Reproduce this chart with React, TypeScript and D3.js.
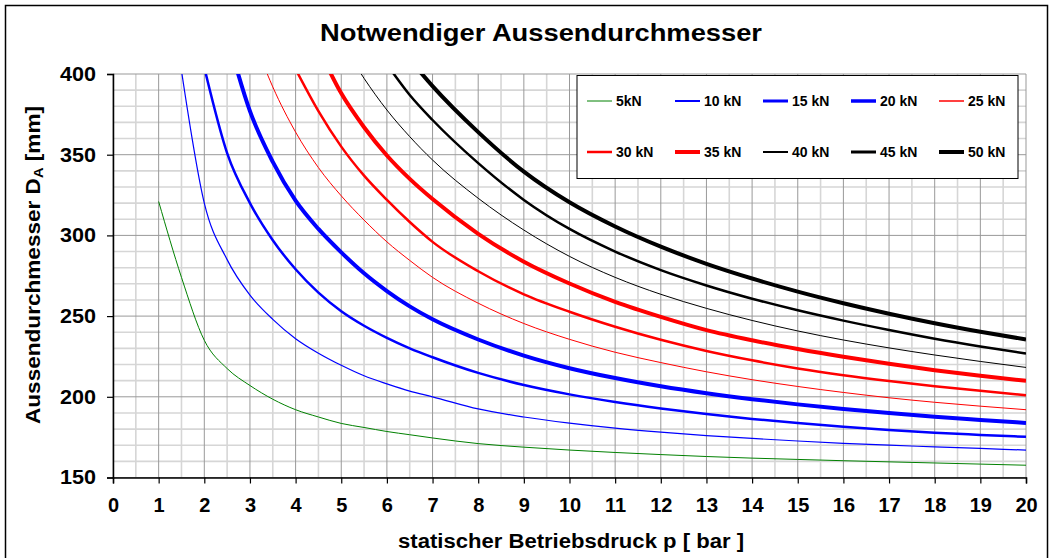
import React, { useEffect, useRef } from 'react';
import * as d3 from 'd3';

// static pressure p [bar] at which the curves were sampled
const PRESSURE = [1, 1.5, 2, 2.5, 3, 3.5, 4, 4.5, 5, 5.5, 6, 6.5, 7, 8, 9, 10, 11, 12, 13, 14, 15, 16, 17, 18, 19, 20];

// required outer diameter D_A [mm] per load, null = not plotted
const N = null;
const D_5 = [321, 274, 235, 217.5, 207, 198.5, 192, 187.5, 183.5, 181, 178.5, 176.5, 174.5, 171, 168.8, 167, 165.5, 164.2, 163, 162, 161.2, 160.4, 159.7, 159, 158.3, 157.6];
const D_10 = [N, 402, 320, 285, 263, 248, 236, 227, 219.5, 213, 208, 203.5, 200, 192.5, 187.5, 183.7, 180.6, 178.1, 176, 174.2, 172.6, 171.2, 170, 169, 168, 167];
const D_15 = [N, N, 404, 351, 320, 297, 279, 264.5, 253, 244, 236.5, 230, 224.5, 214.8, 207.3, 201.5, 196.8, 192.8, 189.3, 186.3, 183.7, 181.4, 179.4, 177.7, 176.4, 175.2];
const D_20 = [N, N, N, 424, 377, 345.5, 321.5, 304, 289.5, 276.5, 265.5, 256, 248, 235.5, 225.5, 217.7, 211.6, 206.5, 202.2, 198.5, 195.3, 192.5, 190, 187.7, 185.7, 183.8];
const D_25 = [N, N, N, N, 428, 392, 364, 342, 324.5, 309.5, 296, 284.5, 274, 258, 245.4, 235.6, 227.6, 221.2, 215.5, 210.6, 206.4, 202.7, 199.4, 196.6, 194.2, 192];
const D_30 = [N, N, N, N, N, N, 403, 377, 355, 337, 322, 308.3, 296, 277.8, 263.5, 252.7, 243.4, 235.3, 228.4, 222.6, 217.6, 213.4, 209.8, 206.6, 203.7, 201];
const D_35 = [N, N, N, N, N, N, N, 416, 388, 367, 349.5, 335, 322.5, 301, 283.7, 270.2, 258.8, 249.5, 241.3, 235, 229.6, 224.8, 220.5, 216.5, 213, 209.9];
const D_40 = [N, N, N, N, N, N, N, N, 420, 397.3, 377.7, 361.2, 346.7, 323, 303.3, 287, 274, 263.5, 254.8, 247.3, 240.8, 235.2, 230.3, 225.9, 221.9, 218.2];
const D_45 = [N, N, N, N, N, N, N, N, N, N, 406, 387, 371.5, 344.8, 322, 304, 290, 278.5, 269, 260.8, 253.6, 247.2, 241.4, 236, 231.2, 226.8];
const D_50 = [N, N, N, N, N, N, N, N, N, N, N, 409, 392.5, 364, 339.5, 320.5, 305.5, 293, 282.4, 273.3, 265.2, 258, 251.5, 245.6, 240.3, 235.5];

const SERIES_LABELS = ['5kN', '10 kN', '15 kN', '20 kN', '25 kN', '30 kN', '35 kN', '40 kN', '45 kN', '50 kN'];
const SERIES_VALUES = [D_5, D_10, D_15, D_20, D_25, D_30, D_35, D_40, D_45, D_50];

const X_TICKS = d3.range(0, 21);
const Y_TICKS = [150, 200, 250, 300, 350, 400];

// line styles: colour, plot width, legend width
const STYLES = [
  { color: '#008000', w: 1, lw: 1 },
  { color: '#0000ff', w: 1.2, lw: 2 },
  { color: '#0000ff', w: 2.5, lw: 3 },
  { color: '#0000ff', w: 4, lw: 3.5 },
  { color: '#ff0000', w: 1, lw: 1.5 },
  { color: '#ff0000', w: 2.5, lw: 2.5 },
  { color: '#ff0000', w: 4, lw: 4 },
  { color: '#000000', w: 1, lw: 2 },
  { color: '#000000', w: 2.5, lw: 3 },
  { color: '#000000', w: 4, lw: 4 },
];

const W = 1053;
const H = 558;
const PLOT = { left: 113, right: 1026, top: 74, bottom: 477.5 };
const FONT = 'Arial, "Liberation Sans", sans-serif';

const App: React.FC = () => {
  const svgRef = useRef<SVGSVGElement>(null);

  useEffect(() => {
    if (!svgRef.current) return;
    const svg = d3.select(svgRef.current);
    svg.selectAll('*').remove();

    const x = d3.scaleLinear().domain([0, 20]).range([PLOT.left, PLOT.right]);
    const y = d3.scaleLinear().domain([150, 400]).range([PLOT.bottom, PLOT.top]);

    svg.append('rect').attr('width', W).attr('height', H).attr('fill', '#fff');
    // chart frame
    svg
      .append('rect')
      .attr('x', 5.5)
      .attr('y', 5.5)
      .attr('width', 1042)
      .attr('height', 560)
      .attr('fill', 'none')
      .attr('stroke', '#000')
      .attr('stroke-width', 1.5);

    svg
      .append('text')
      .attr('x', 541)
      .attr('y', 41)
      .attr('text-anchor', 'middle')
      .attr('font-family', FONT)
      .attr('font-weight', 'bold')
      .attr('font-size', 23)
      .attr('textLength', 442)
      .attr('lengthAdjust', 'spacingAndGlyphs')
      .text('Notwendiger Aussendurchmesser');

    // grid
    const grid = svg.append('g');
    d3.range(160, 400, 10)
      .filter(v => v % 50 !== 0)
      .forEach(v => {
        grid.append('line')
          .attr('x1', PLOT.left).attr('x2', PLOT.right)
          .attr('y1', y(v)).attr('y2', y(v))
          .attr('stroke', '#d6d6d6').attr('stroke-width', 1.6);
      });
    d3.range(0.5, 20, 1).forEach(v => {
      grid.append('line')
        .attr('x1', x(v)).attr('x2', x(v))
        .attr('y1', PLOT.top).attr('y2', PLOT.bottom)
        .attr('stroke', '#d6d6d6').attr('stroke-width', 1.6);
    });
    Y_TICKS.forEach(v => {
      grid.append('line')
        .attr('x1', PLOT.left).attr('x2', PLOT.right)
        .attr('y1', y(v)).attr('y2', y(v))
        .attr('stroke', '#999').attr('stroke-width', 1);
    });
    X_TICKS.forEach(v => {
      grid.append('line')
        .attr('x1', x(v)).attr('x2', x(v))
        .attr('y1', PLOT.top).attr('y2', PLOT.bottom)
        .attr('stroke', '#999').attr('stroke-width', 1);
    });

    // curves
    svg.append('clipPath').attr('id', 'plot-clip')
      .append('rect')
      .attr('x', PLOT.left).attr('y', PLOT.top)
      .attr('width', PLOT.right - PLOT.left).attr('height', PLOT.bottom - PLOT.top);

    const line = d3
      .line<[number, number | null]>()
      .defined(d => d[1] !== null)
      .x(d => x(d[0]))
      .y(d => y(d[1] as number))
      .curve(d3.curveMonotoneX);

    const curves = svg.append('g').attr('clip-path', 'url(#plot-clip)');
    SERIES_VALUES.forEach((vals, i) => {
      curves.append('path')
        .datum(PRESSURE.map((p, j) => [p, vals[j]] as [number, number | null]))
        .attr('d', line)
        .attr('fill', 'none')
        .attr('stroke', STYLES[i].color)
        .attr('stroke-width', STYLES[i].w)
        .attr('stroke-linejoin', 'round');
    });

    // axes
    const yAxis = svg.append('g').attr('transform', `translate(${PLOT.left},0)`)
      .call(d3.axisLeft(y).tickValues(Y_TICKS).tickSize(6).tickPadding(11));
    const xAxis = svg.append('g').attr('transform', `translate(0,${PLOT.bottom})`)
      .call(d3.axisBottom(x).tickValues(X_TICKS).tickSize(6).tickPadding(14));
    [yAxis, xAxis].forEach(a => {
      a.select('.domain').attr('stroke', '#000').attr('stroke-width', 1.5);
      a.selectAll('.tick line').attr('stroke', '#000').attr('stroke-width', 1.2);
      a.selectAll('.tick text')
        .attr('font-family', FONT)
        .attr('font-weight', 'bold')
        .attr('font-size', 20)
        .attr('fill', '#000');
    });
    yAxis.selectAll('.tick text')
      .attr('textLength', 36)
      .attr('lengthAdjust', 'spacingAndGlyphs');
    xAxis.selectAll('.tick text').attr('dy', '0.72em');

    svg
      .append('text')
      .attr('x', 571)
      .attr('y', 548)
      .attr('text-anchor', 'middle')
      .attr('font-family', FONT)
      .attr('font-weight', 'bold')
      .attr('font-size', 20)
      .attr('textLength', 346)
      .attr('lengthAdjust', 'spacingAndGlyphs')
      .text('statischer Betriebsdruck p [ bar ]');

    const yTitle = svg
      .append('text')
      .attr('transform', `translate(40,265) rotate(-90)`)
      .attr('text-anchor', 'middle')
      .attr('font-family', FONT)
      .attr('font-weight', 'bold')
      .attr('font-size', 20)
      .attr('textLength', 318)
      .attr('lengthAdjust', 'spacingAndGlyphs');
    yTitle.append('tspan').text('Aussendurchmesser D');
    yTitle.append('tspan').attr('font-size', 13).attr('dy', 3).text('A');
    yTitle.append('tspan').attr('dy', -3).text(' [mm]');

    // legend
    const legend = svg.append('g');
    legend.append('rect')
      .attr('x', 577).attr('y', 75.5)
      .attr('width', 441).attr('height', 103)
      .attr('fill', '#fff').attr('stroke', '#000').attr('stroke-width', 1);
    SERIES_LABELS.forEach((label, i) => {
      const col = i % 5;
      const row = Math.floor(i / 5);
      const lx = 587 + col * 88;
      const ly = 101 + row * 51;
      legend.append('line')
        .attr('x1', lx).attr('x2', lx + 25)
        .attr('y1', ly).attr('y2', ly)
        .attr('stroke', STYLES[i].color)
        .attr('stroke-width', STYLES[i].lw);
      legend.append('text')
        .attr('x', lx + 29).attr('y', ly + 5)
        .attr('font-family', FONT)
        .attr('font-weight', 'bold')
        .attr('font-size', 14)
        .text(label);
    });
  }, []);

  return (
    <svg
      ref={svgRef}
      width={W}
      height={H}
      style={{ position: 'absolute', left: 0, top: 0, display: 'block' }}
    />
  );
};

export default App;
